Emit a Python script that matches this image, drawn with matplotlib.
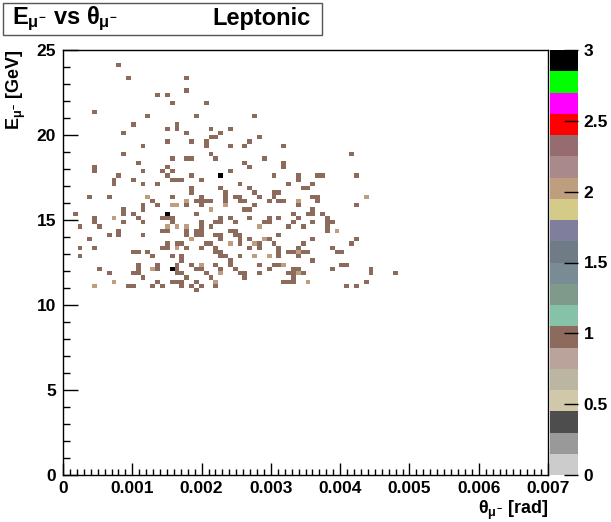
import numpy as np
import matplotlib
matplotlib.use('Agg')
import matplotlib.pyplot as plt
from matplotlib.colors import ListedColormap, BoundaryNorm
from matplotlib.patches import Rectangle
from matplotlib.ticker import MultipleLocator

plt.rcParams['font.family'] = ['Liberation Sans', 'DejaVu Sans']
plt.rcParams['font.weight'] = 'bold'
plt.rcParams['mathtext.fontset'] = 'custom'
plt.rcParams['mathtext.rm'] = 'Liberation Sans'
plt.rcParams['mathtext.it'] = 'Liberation Sans'
plt.rcParams['mathtext.bf'] = 'Liberation Sans:bold'

# one entry per event: energy of the row (GeV) and the muon angles in that row (micro-rad)
energy_rows = [24.125, 23.375, 22.625, 22.375, 21.875, 21.375, 21.125, 20.625, 20.375, 20.125,
               19.875, 19.625, 19.375, 18.875, 18.625, 18.375, 18.125, 17.875, 17.625, 17.375,
               17.125, 16.875, 16.625, 16.375, 16.125, 15.875, 15.625, 15.375, 15.125, 14.875,
               14.625, 14.375, 14.125, 13.875, 13.625, 13.375, 13.125, 12.875, 12.625, 12.375,
               12.125, 11.875, 11.625, 11.375, 11.125, 10.875]
theta_rows = [
    [805],
    [945, 1785],
    [1785],
    [1365, 1505],
    [1575, 2065],
    [455],
    [1225, 1925, 2765],
    [1015, 1645],
    [1505, 1645, 2135, 2415],
    [875, 1785, 2275],
    [2135, 2205, 2835],
    [1505, 1855, 2065, 2695],
    [1155, 2065, 2415, 2625, 3185],
    [875, 2135, 4165],
    [1575, 1785, 1855, 2205, 2905],
    [1085, 2625, 3185],
    [455, 1505, 2695, 3185],
    [455, 1155, 1435, 1575, 2415],
    [805, 1505, 1855, 2275, 2275, 2275, 3045, 3395, 3675, 3745, 4235],
    [735, 1015, 1575, 1645, 1715, 1995, 3395],
    [735, 1155, 1365, 2555, 3255, 3605],
    [1855, 2275, 2695, 3465, 3535],
    [1855, 2345, 2765, 3045, 3115],
    [385, 665, 1225, 1225, 1575, 1995, 2345, 2485, 2555, 2835, 3045, 3605, 3675, 4375, 4375],
    [1295, 1785, 1785, 1925, 1995, 2065, 2135, 2345, 2555, 2625, 2975, 3115, 3185, 3395, 3395, 3675],
    [1155, 1365, 1575, 1575, 1645, 1645, 1785, 1995, 2345, 2345, 2765, 3395, 4235],
    [875, 1155, 2135, 2135, 2625, 2695, 3605],
    [175, 875, 1015, 1505, 1505, 1505, 1925, 3325, 3535, 3605, 3745],
    [455, 735, 735, 1085, 1435, 1505, 1575, 2275, 2415, 2695, 2975, 3115, 3395, 3815],
    [455, 875, 1155, 1575, 1995, 2205, 2275, 2485, 2905, 2975, 3325, 3605, 3815, 3885],
    [245, 525, 1505, 1505, 1645, 1645, 1785, 1785, 1995, 2135, 2835, 2835, 3255, 3465, 3815],
    [805, 1435, 1505, 1785, 1925, 1995, 2415, 2485, 3815, 3955, 3955],
    [665, 805, 1155, 1785, 1925, 1995, 2205, 2275, 2485, 2555, 3115],
    [385, 1855, 1855, 2275, 2555, 2695, 2905, 2905, 2975, 3605, 4235],
    [1505, 1645, 1715, 2065, 2135, 2415, 2415, 2555, 2765, 2765, 2835, 3045, 3465, 4165],
    [245, 455, 1435, 1505, 1645, 1645, 1785, 1995, 2205, 2695, 2835, 3115, 3395, 3885],
    [1015, 1085, 1225, 2205, 2275, 3115, 3255, 3325, 3395, 3395, 3465, 3535, 3955, 4025],
    [245, 1295, 1575, 1715, 2275, 2345, 2555, 2765, 2765, 2975, 2975, 3115, 3395],
    [1715, 2415, 3605],
    [1085, 1365, 1645, 1855, 1995, 1995, 2205, 2415, 2835, 3045, 3115, 3185, 3185, 4025, 4095],
    [525, 1085, 1295, 1295, 1365, 1575, 1575, 1575, 1645, 1925, 1995, 2275, 2485, 2975, 3325, 3395, 3885, 4445],
    [665, 1015, 1085, 1645, 1715, 2065, 2275, 2275, 2555, 2625, 2835, 3255, 3325, 3395, 3395, 3465, 4445, 4795],
    [1155, 1785, 2135, 2625, 3325],
    [735, 735, 1365, 1575, 1645, 1715, 1925, 2205, 2205, 3185, 3255, 3325, 3535, 3535, 4375],
    [455, 455, 945, 1015, 1295, 1435, 1715, 1855, 1995, 2205, 4095, 4235],
    [1925],
]

# ROOT palette, 20 levels from 0 to 3
palette = ['#cccccc', '#999999', '#4d4d4d', '#d0c8a8', '#bab6a1', '#b9a39b', '#8c6b5d',
           '#86c2a8', '#7f9a8b', '#798b94', '#6f7c86', '#7f7f9d', '#d3cb87', '#bf9e80',
           '#aa898c', '#976c71', '#ff0000', '#ff00ff', '#00ff00', '#000000']
cbar_ticks = [0, 0.5, 1, 1.5, 2, 2.5, 3]
cbar_labels = ['0', '0.5', '1', '1.5', '2', '2.5', '3']
x_ticklabels = ['0', '0.001', '0.002', '0.003', '0.004', '0.005', '0.006', '0.007']
y_ticklabels = ['0', '5', '10', '15', '20', '25']

theta = np.concatenate([np.array(t) * 1e-6 for t in theta_rows])
energy = np.concatenate([[e] * len(t) for e, t in zip(energy_rows, theta_rows)])

xedges = np.linspace(0, 0.007, 101)
yedges = np.linspace(0, 25, 101)
H, _, _ = np.histogram2d(theta, energy, bins=[xedges, yedges])
H = np.ma.masked_equal(H.T, 0)

cmap = ListedColormap(palette)
cmap.set_over(palette[-1])
levels = np.linspace(0, 3, 21)
norm = BoundaryNorm(levels, cmap.N)

W, Hpx = 611, 522
fig = plt.figure(figsize=(W / 100, Hpx / 100), dpi=100)
ax = fig.add_axes([63 / W, 1 - 475 / Hpx, 485 / W, 425 / Hpx])
mesh = ax.pcolormesh(xedges, yedges, H, cmap=cmap, norm=norm, antialiased=False,
                     edgecolors='none')
ax.set_xlim(0, 0.007)
ax.set_ylim(0, 25)

ax.set_xticks(np.arange(0, 0.0071, 0.001))
ax.set_xticklabels(x_ticklabels, fontsize=12.5, fontweight='bold')
ax.set_yticks([0, 5, 10, 15, 20, 25])
ax.set_yticklabels(y_ticklabels, fontsize=12.5, fontweight='bold')
ax.xaxis.set_minor_locator(MultipleLocator(0.0001))
ax.yaxis.set_minor_locator(MultipleLocator(1))
ax.tick_params(axis='x', which='major', direction='in', length=9, width=1, pad=4)
ax.tick_params(axis='x', which='minor', direction='in', length=4.5, width=1)
ax.tick_params(axis='y', which='major', direction='in', length=10.5, width=1, pad=5)
ax.tick_params(axis='y', which='minor', direction='in', length=5, width=1)
for s in ax.spines.values():
    s.set_linewidth(1)

ax.set_ylabel(r'E$_{\mu^{-}}$ [GeV]', fontsize=13, fontweight='bold', loc='top', labelpad=6)
fig.text(548 / W, 1 - 499 / Hpx, r'$\theta_{\mu^{-}}$ [rad]', fontsize=13, fontweight='bold',
         ha='right', va='top')

# palette axis
cax = fig.add_axes([550 / W, 1 - 475 / Hpx, 28 / W, 425 / Hpx])
cb = fig.colorbar(mesh, cax=cax, boundaries=levels, ticks=cbar_ticks)
cb.outline.set_visible(False)
cax.set_yticklabels(cbar_labels, fontsize=12.5, fontweight='bold')
cax.tick_params(axis='y', which='major', direction='in', length=10, width=1, pad=4, right=True)
cax.tick_params(axis='y', which='minor', length=0)

# title box
fig.patches.append(Rectangle((3 / W, 1 - 35 / Hpx), 319 / W, 32 / Hpx, transform=fig.transFigure,
                             facecolor='white', edgecolor='#555555', linewidth=1))
fig.text(12 / W, 1 - 19 / Hpx, r'E$_{\mu^{-}}$ vs $\theta_{\mu^{-}}$', fontsize=17,
         fontweight='bold', ha='left', va='center')
fig.text(311 / W, 1 - 19 / Hpx, 'Leptonic', fontsize=17, fontweight='bold',
         ha='right', va='center')

fig.savefig('out.png', dpi=100)
